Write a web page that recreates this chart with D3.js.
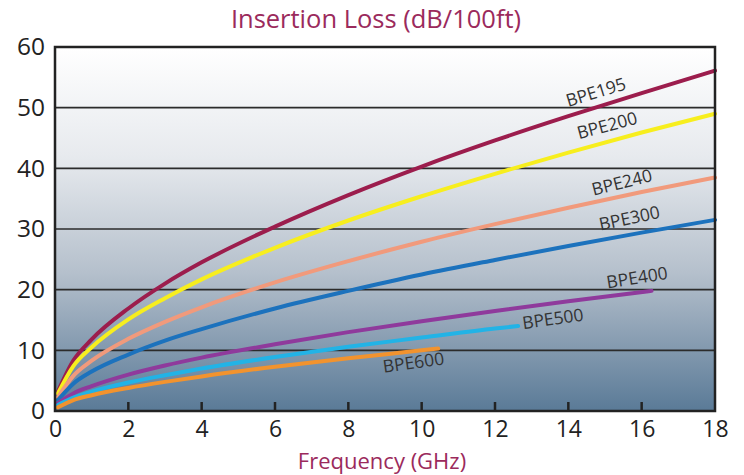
<!DOCTYPE html>
<html>
<head>
    <title>Insertion Loss</title>
    <script src="https://d3js.org/d3.v7.min.js"></script>
    <style type="text/css">
        body{ margin:0; background:#fff; }
        .axis text{
            font-family: "Open Sans", sans-serif;
            fill: #222;
        }
        .lbl{
            font-family: "Open Sans", sans-serif;
            font-size: 17.5px;
            fill: #333;
        }
        .ttl{
            font-family: "Open Sans", sans-serif;
            fill: #9b2a5c;
        }
    </style>
</head>
<body>
<script>
    var w = 744;
    var h = 475;

    // frequency (GHz) points
    var freq = [0.08, 0.5, 1, 2, 3, 4, 6, 8, 10, 12, 14, 16, 18];
    var cables = ["BPE195", "BPE200", "BPE240", "BPE300", "BPE400", "BPE500", "BPE600"];
    // insertion loss in dB/100ft read at the freq points above
    var bpe195 = [3.2, 8.3, 11.8, 16.9, 21.0, 24.5, 30.4, 35.6, 40.3, 44.6, 48.6, 52.4, 56.1];
    var bpe200 = [2.9, 7.4, 10.5, 15.1, 18.6, 21.7, 26.9, 31.4, 35.4, 39.1, 42.6, 45.9, 49.0];
    var bpe240 = [2.3, 5.8, 8.3, 11.9, 14.7, 17.1, 21.2, 24.7, 27.9, 30.8, 33.5, 36.1, 38.5];
    var bpe300 = [1.8, 4.5, 6.5, 9.3, 11.6, 13.5, 16.9, 19.8, 22.5, 24.9, 27.2, 29.4, 31.5];
    var bpe400 = [1.3, 2.9, 4.1, 6.0, 7.5, 8.8, 11.0, 13.0, 14.8, 16.5, 18.1, 19.8];
    var bpe500 = [1.0, 2.2, 3.2, 4.7, 5.9, 7.0, 8.9, 10.6, 12.1, 13.6, 14.0];
    var bpe600 = [0.6, 1.8, 2.6, 3.8, 4.8, 5.7, 7.3, 8.7, 10.0, 10.3];
    // last point of the shorter curves
    var endFreq = [18, 18, 18, 18, 16.27, 12.63, 10.45];
    var lossSeries = [bpe195, bpe200, bpe240, bpe300, bpe400, bpe500, bpe600];
    var colors = ["#9c1d4d", "#f7ee1e", "#f19a7c", "#1c72bd", "#8f3a9c", "#22b3e6", "#f2932e"];
    var xTicks = [0, 2, 4, 6, 8, 10, 12, 14, 16, 18];
    var yTicks = [0, 10, 20, 30, 40, 50, 60];
    // label anchor (GHz, dB) and angle
    var labelPos = [[14.8, 51.6, -17], [15.1, 46.1, -15], [15.5, 36.7, -14], [15.7, 30.8, -12], [15.9, 21.0, -9], [13.6, 14.2, -8], [9.8, 7.0, -8]];

    var mLeft = 55, mRight = 715, mTop = 47, mBottom = 411;

    var xScale = d3.scaleLinear().domain([0, 18]).range([mLeft, mRight]);
    var yScale = d3.scaleLinear().domain([0, 60]).range([mBottom, mTop]);

    var svg = d3.select("body")
                .append("svg")
                .attr("width", w)
                .attr("height", h);

    var grad = svg.append("defs").append("linearGradient")
                  .attr("id", "bg")
                  .attr("x1", 0).attr("y1", 0).attr("x2", 0).attr("y2", 1);
    grad.append("stop").attr("offset", "0%").attr("stop-color", "#ffffff");
    grad.append("stop").attr("offset", "30%").attr("stop-color", "#e7eaee");
    grad.append("stop").attr("offset", "62%").attr("stop-color", "#b5c0cc");
    grad.append("stop").attr("offset", "100%").attr("stop-color", "#5a7a97");

    svg.append("rect")
       .attr("x", mLeft).attr("y", mTop)
       .attr("width", mRight - mLeft).attr("height", mBottom - mTop)
       .attr("fill", "url(#bg)");

    // horizontal grid
    svg.selectAll(".grid")
       .data(yTicks.slice(1, -1))
       .enter()
       .append("line")
       .attr("x1", mLeft).attr("x2", mRight)
       .attr("y1", function(d){ return yScale(d); })
       .attr("y2", function(d){ return yScale(d); })
       .attr("stroke", "#2b2b2b")
       .attr("stroke-width", 1.6);

    // curves
    var line = d3.line()
                 .x(function(d){ return xScale(d[0]); })
                 .y(function(d){ return yScale(d[1]); })
                 .curve(d3.curveMonotoneX);

    lossSeries.forEach(function(vals, i){
        var pts = vals.map(function(v, j){
            var f = (j == vals.length - 1) ? endFreq[i] : freq[j];
            return [f, v];
        });
        svg.append("path")
           .attr("d", line(pts))
           .attr("fill", "none")
           .attr("stroke", colors[i])
           .attr("stroke-width", 4)
           .attr("stroke-linecap", "round");
    });

    // curve names
    svg.selectAll(".lbl")
       .data(cables)
       .enter()
       .append("text")
       .attr("class", "lbl")
       .attr("text-anchor", "middle")
       .attr("transform", function(d, i){
            var p = labelPos[i];
            return "translate(" + xScale(p[0]) + "," + yScale(p[1]) + ") rotate(" + p[2] + ")";
       })
       .text(function(d){ return d; });

    // frame
    svg.append("rect")
       .attr("x", mLeft).attr("y", mTop)
       .attr("width", mRight - mLeft).attr("height", mBottom - mTop)
       .attr("fill", "none")
       .attr("stroke", "#222")
       .attr("stroke-width", 2.5);

    // axes
    var xAxis = d3.axisBottom(xScale)
                  .tickValues(xTicks)
                  .tickSize(0)
                  .tickPadding(10);
    var gx = svg.append("g")
       .attr("class", "axis")
       .attr("transform", "translate(0," + mBottom + ")")
       .call(xAxis);
    gx.select(".domain").remove();
    gx.selectAll("text").style("font-size", "23px");

    // inner tick marks
    svg.selectAll(".itick")
       .data(xTicks.slice(1, -1))
       .enter()
       .append("line")
       .attr("x1", function(d){ return xScale(d); })
       .attr("x2", function(d){ return xScale(d); })
       .attr("y1", mBottom).attr("y2", mBottom - 9)
       .attr("stroke", "#222")
       .attr("stroke-width", 2.5);

    var yAxis = d3.axisLeft(yScale)
                  .tickValues(yTicks)
                  .tickSize(0)
                  .tickPadding(10);
    var gy = svg.append("g")
       .attr("class", "axis")
       .attr("transform", "translate(" + mLeft + ",0)")
       .call(yAxis);
    gy.select(".domain").remove();
    gy.selectAll("text").style("font-size", "24.5px");

    // titles
    svg.append("text")
       .attr("class", "ttl")
       .attr("x", 376).attr("y", 28)
       .attr("text-anchor", "middle")
       .style("font-size", "25.5px")
       .text("Insertion Loss (dB/100ft)");
    svg.append("text")
       .attr("class", "ttl")
       .attr("x", 382).attr("y", 469)
       .attr("text-anchor", "middle")
       .style("font-size", "22px")
       .text("Frequency (GHz)");
</script>
</body>
</html>
